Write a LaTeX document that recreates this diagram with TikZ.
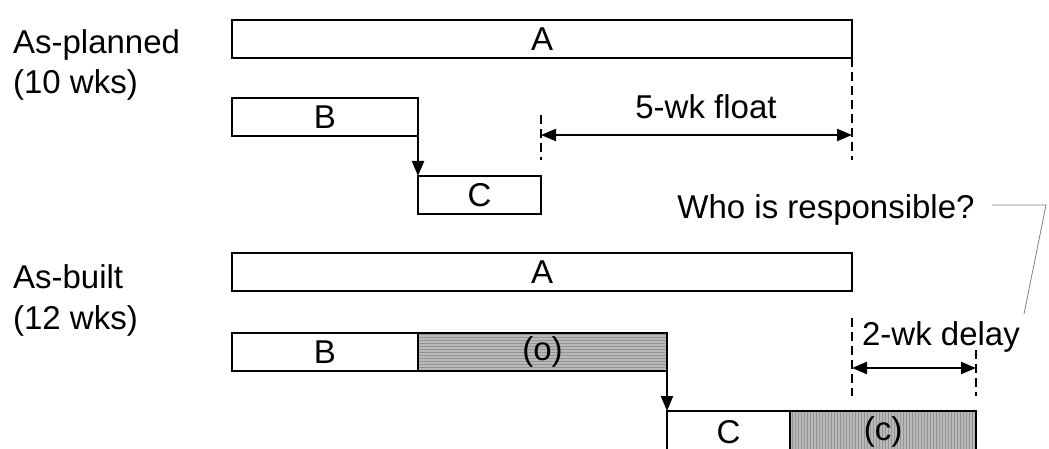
\documentclass[tikz,border=0pt]{standalone}
\usepackage{fontspec}
\setmainfont{Liberation Sans}
\usetikzlibrary{arrows.meta, patterns}

\begin{document}
\begin{tikzpicture}
            [x=1pt, y=-1pt, >={Triangle[length=15pt,width=12pt]}, line width=2.2pt,
             font=\fontsize{33}{40}\selectfont,
             bar/.style={rectangle, draw=black, fill=white, inner sep=0pt, outer sep=0pt, minimum height=38pt, anchor=north west},
             hatched/.style={preaction={fill=gray!55}, pattern=#1, pattern color=gray!85},
             guide/.style={dash pattern=on 9pt off 5pt, line width=2.2pt},
             callout/.style={draw=gray, line width=0.8pt},
             lbl/.style={anchor=base west, inner sep=0pt}]
            \clip (0,0) rectangle (1049,449);

            % row labels
            \node[lbl] (plan) at (12,54) {As-planned};
            \node[lbl] (planwk) at (12,94) {(10 wks)};
            \node[lbl] (built) at (12,288) {As-built};
            \node[lbl] (builtwk) at (12,329) {(12 wks)};

            % as-planned bars
            \node[bar, minimum width=620pt] (pa) at (232,20) {A};
            \node[bar, minimum width=186pt] (pb) at (232,98) {B};
            \node[bar, minimum width=123pt] (pc) at (418,176) {C};

            % as-built bars
            \node[bar, minimum width=620pt] (ba) at (232,253) {A};
            \node[bar, minimum width=186pt] (bb) at (232,333) {B};
            \node[bar, hatched=horizontal lines, minimum width=249pt] (bo) at (418,333) {(o)};
            \node[bar, minimum width=123pt, minimum height=42pt] (bc) at (667,411) {C};
            \node[bar, hatched=vertical lines, minimum width=186pt, minimum height=42pt] (bcc) at (790,411) {(c)};

            \path [->] (pb.north east) edge (pc.north west);
            \path [->] (bo.north east) edge (bc.north west);

            % float
            \coordinate (f1top) at (541,115);
            \coordinate (f1bot) at (541,160);
            \coordinate (f2bot) at (852,160);
            \coordinate (fl) at (541,135);
            \coordinate (fr) at (852,135);
            \draw[guide] (f1top) -- (f1bot);
            \draw[guide] (pa.south east) -- (f2bot);
            \draw[<->] (fl) -- (fr);
            \node (float) at (706,107) {5-wk float};

            % delay
            \coordinate (d1top) at (852,318);
            \coordinate (d1bot) at (852,396);
            \coordinate (d2top) at (976,350);
            \coordinate (d2bot) at (976,396);
            \coordinate (dl) at (852,368);
            \coordinate (dr) at (976,368);
            \draw[guide] (d1top) -- (d1bot);
            \draw[guide] (d2top) -- (d2bot);
            \draw[<->] (dl) -- (dr);
            \node (delay) at (941,337) {2-wk delay};

            % question
            \node (who) at (826,210) {Who is responsible?};
            \coordinate (k0) at (992,205);
            \coordinate (k1) at (1046,205);
            \coordinate (k2) at (1024,314);
            \draw[callout] (k0) -- (k1) -- (k2);
        \end{tikzpicture}
\end{document}
